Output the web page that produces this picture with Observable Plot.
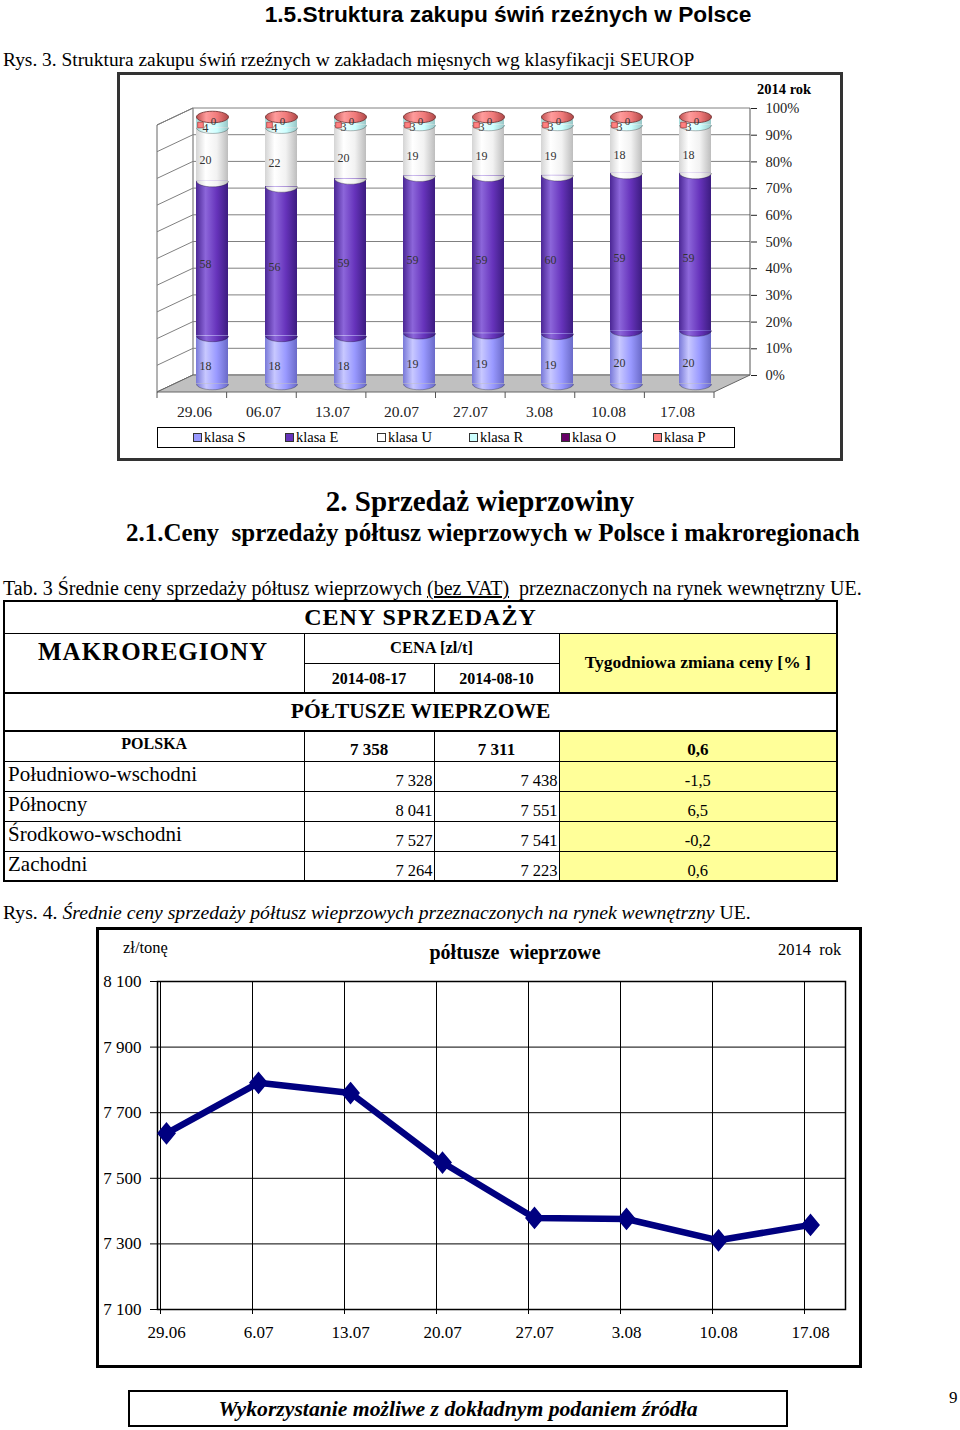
<!DOCTYPE html>
<html><head><meta charset="utf-8">
<script src="https://cdn.jsdelivr.net/npm/d3@7"></script>
<script src="https://cdn.jsdelivr.net/npm/@observablehq/plot@0.6"></script>
<style>
body{margin:0;overflow:hidden;background:#fff;}
#page{position:relative;width:960px;height:1430px;font-family:'Liberation Serif','Times New Roman',serif;color:#000;}
.abs{position:absolute;white-space:nowrap;line-height:1;}
.box{position:absolute;box-sizing:border-box;}
#tab{position:absolute;left:3px;top:600px;width:833px;border-collapse:collapse;table-layout:fixed;border:2px solid #000;font-family:'Liberation Serif','Times New Roman',serif;}
#tab td{border:1px solid #000;padding:0 3px;line-height:1;overflow:hidden;white-space:nowrap;}
#tab .c{text-align:center;}
#tab .y{background:#FFFF99;}
#tab .big{font-weight:bold;font-size:24px;letter-spacing:1px;vertical-align:middle;}
#tab .mak{font-weight:bold;font-size:25px;letter-spacing:1px;vertical-align:top;padding-top:5px;padding-left:33px;}
#tab .b15{font-weight:bold;font-size:16.5px;}
#tab .thick td{border-top:2px solid #000;border-bottom:2px solid #000;}
.leg{position:absolute;top:0;font-size:14.5px;line-height:19px;white-space:nowrap;}
.leg i{display:inline-block;width:7px;height:7px;border:1px solid #333;margin-right:2px;vertical-align:0px;}
</style></head>
<body><div id="page">
<div class="abs" style="left:208px;width:600px;text-align:center;top:1px;font:bold 22.7px 'Liberation Sans',Arial,sans-serif;">1.5.Struktura zakupu świń rzeźnych w Polsce</div>
<div class="abs" style="left:3px;top:50px;font-size:19.4px;">Rys. 3. Struktura zakupu świń rzeźnych w zakładach mięsnych wg klasyfikacji SEUROP</div>
<div id="c1"></div>
<div class="box" style="left:117px;top:72px;width:726px;height:389px;border:3px solid #333;"></div>
<div class="abs" style="left:757px;top:82px;font-weight:bold;font-size:14.5px;">2014 rok</div>
<div class="box" id="legend" style="left:157px;top:427px;width:578px;height:21px;border:1px solid #000;"></div>
<div class="abs" style="left:230px;width:500px;text-align:center;top:487px;font-weight:bold;font-size:29px;">2. Sprzedaż wieprzowiny</div>
<div class="abs" style="left:126px;top:520px;font-weight:bold;font-size:25px;white-space:pre;">2.1.Ceny  sprzedaży półtusz wieprzowych w Polsce i makroregionach</div>
<div class="abs" style="left:3px;top:578px;font-size:20px;white-space:pre;">Tab. 3 Średnie ceny sprzedaży półtusz wieprzowych <u>(bez VAT)</u>  przeznaczonych na rynek wewnętrzny UE.</div>
<table id="tab">
<colgroup><col style="width:300px"><col style="width:130px"><col style="width:125px"><col style="width:278px"></colgroup>
<tr style="height:32px"><td colspan="4" class="c big">CENY SPRZEDAŻY</td></tr>
<tr style="height:30px"><td rowspan="2" class="mak">MAKROREGIONY</td><td colspan="2" class="c b15">CENA [zl/t]</td><td rowspan="2" class="c y b15" style="font-size:17.5px">Tygodniowa zmiana ceny [% ]</td></tr>
<tr style="height:30px"><td class="c b15" style="font-size:16px;vertical-align:bottom;padding-bottom:5px">2014-08-17</td><td class="c b15" style="font-size:16px;vertical-align:bottom;padding-bottom:5px">2014-08-10</td></tr>
<tr style="height:38px" class="thick"><td colspan="4" class="c" style="font-weight:bold;font-size:21.5px;">PÓŁTUSZE WIEPRZOWE</td></tr>
<tbody id="tbody"></tbody>
</table>
<div class="abs" style="left:3px;top:903px;font-size:19.7px;">Rys. 4. <i>Średnie ceny sprzedaży półtusz wieprzowych przeznaczonych na rynek wewnętrzny</i> UE.</div>
<div id="c2"></div>
<div class="box" style="left:96px;top:927px;width:766px;height:441px;border:3px solid #000;"></div>
<div class="abs" style="left:123px;top:940px;font-size:16.5px;">zł/tonę</div>
<div class="abs" style="left:315px;width:400px;text-align:center;top:942px;font-weight:bold;font-size:20px;white-space:pre;">półtusze  wieprzowe</div>
<div class="abs" style="left:778px;top:942px;font-size:16.5px;white-space:pre;">2014  rok</div>
<div class="box" style="left:128px;top:1390px;width:660px;height:37px;border:2px solid #000;"></div>
<div class="abs" style="left:128px;width:660px;text-align:center;top:1399px;font-weight:bold;font-style:italic;font-size:21.7px;">Wykorzystanie możliwe z dokładnym podaniem źródła</div>
<div class="abs" style="left:949px;top:1389px;font-size:17px;">9</div>
</div>
<script>
// ---------- Data: chart 1 (SEUROP structure, %) ----------
const dates = ["29.06","06.07","13.07","20.07","27.07","3.08","10.08","17.08"];
const classes = ["klasa S","klasa E","klasa U","klasa R","klasa O","klasa P"];
const klasaS = [18,18,18,19,19,19,20,20];
const klasaE = [58,56,59,59,59,60,59,59];
const klasaU = [20,22,20,19,19,19,18,18];
const klasaR = [4,4,3,3,3,3,3,3];
const klasaO = [0,0,0,0,0,0,0,0];
const klasaP = [0,0,0,0,0,0,0,0];
const classColors = ["#9999FF","#6633BB","#FFFFFF","#CCFFFF","#660066","#FF8080"];
const percentTicks = [0,0.1,0.2,0.3,0.4,0.5,0.6,0.7,0.8,0.9,1];

// ---------- Data: table ----------
const regions = ["POLSKA","Południowo-wschodni","Północny","Środkowo-wschodni","Zachodni"];
const price0817 = [7358,7328,8041,7527,7264];
const price0810 = [7311,7438,7551,7541,7223];
const weeklyChange = [0.6,-1.5,6.5,-0.2,0.6];

// ---------- Data: chart 2 (prices zł/t) ----------
const priceDates = ["29.06","6.07","13.07","20.07","27.07","3.08","10.08","17.08"];
const prices = [7637,7791,7760,7548,7379,7376,7311,7358];
const priceTicks = [7100,7300,7500,7700,7900,8100];

// ---------- Chart 1 ----------
const series = [klasaS,klasaE,klasaU,klasaR,klasaO,klasaP];
const rows = [];
dates.forEach((d,i) => classes.forEach((k,j) => rows.push({date:d, klass:k, value:series[j][i]})));

const K = 0.5523, RY = 0.36;
const halfEllipse = {draw(ctx, size){
  const rx = Math.sqrt(size/Math.PI), ry = rx*RY;
  ctx.moveTo(-rx,0);
  ctx.bezierCurveTo(-rx,K*ry,-K*rx,ry,0,ry);
  ctx.bezierCurveTo(K*rx,ry,rx,K*ry,rx,0);
}};
const fullEllipse = {draw(ctx, size){
  const rx = Math.sqrt(size/Math.PI), ry = rx*RY;
  ctx.moveTo(-rx,0);
  ctx.bezierCurveTo(-rx,K*ry,-K*rx,ry,0,ry);
  ctx.bezierCurveTo(K*rx,ry,rx,K*ry,rx,0);
  ctx.bezierCurveTo(rx,-K*ry,K*rx,-ry,0,-ry);
  ctx.bezierCurveTo(-K*rx,-ry,-rx,-K*ry,-rx,0);
  ctx.closePath();
}};
const wideDiamond = {draw(ctx, size){
  const r = Math.sqrt(size/Math.PI);
  ctx.moveTo(0,-r*1.2); ctx.lineTo(r,0); ctx.lineTo(0,r*1.2); ctx.lineTo(-r,0); ctx.closePath();
}};

const DEPTH_X = 36, DEPTH_Y = 17;
function walls(index, scales, values, dims) {
  const y = scales.y;
  const fx0 = dims.marginLeft, fx1 = dims.width - dims.marginRight;
  const bx0 = fx0 + DEPTH_X, bx1 = fx1 + DEPTH_X;
  const y0 = y(0), y1 = y(1);
  const g = d3.create("svg:g");
  g.append("path").attr("d",`M${fx0},${y0+DEPTH_Y}L${bx0},${y0}L${bx0},${y1}L${fx0},${y1+DEPTH_Y}Z`)
    .attr("fill","#fff").attr("stroke","#666");
  for (const t of percentTicks) {
    const yy = y(t);
    g.append("path").attr("d",`M${fx0},${yy+DEPTH_Y}L${bx0},${yy}L${bx1},${yy}`)
      .attr("fill","none").attr("stroke","#808080").attr("stroke-width",1);
  }
  g.append("line").attr("x1",bx1).attr("x2",bx1).attr("y1",y0).attr("y2",y1).attr("stroke","#555");
  g.append("path").attr("d",`M${bx0},${y0}L${bx1},${y0}L${fx1},${y0+DEPTH_Y}L${fx0},${y0+DEPTH_Y}Z`)
    .attr("fill","#C0C0C0").attr("stroke","#666");
  const step = (fx1-fx0)/dates.length;
  for (let i=0;i<=dates.length;i++){
    const xx = fx0 + i*step;
    g.append("line").attr("x1",xx).attr("x2",xx).attr("y1",y0+DEPTH_Y).attr("y2",y0+DEPTH_Y+6).attr("stroke","#555");
  }
  return g.node();
}

const BX = 18, BY = 8.5;
const chart1 = Plot.plot({
  width: 960, height: 390,
  marginLeft: 157, marginRight: 246, marginTop: 36, marginBottom: 87,
  style: {fontFamily: "'Liberation Serif', serif", fontSize: "15px", background: "transparent", color: "#222", overflow: "visible"},
  x: {type: "band", domain: dates, paddingInner: 0.54, paddingOuter: 0.27, align: 0.5, label: null},
  y: {domain: [0,1], label: null},
  color: {domain: classes, range: classes.map((c,i) => `url(#cyl${i})`)},
  marks: [
    walls,
    Plot.barY(rows, {x:"date", y:"value", z:"klass", fill:"klass", offset:"normalize", dx:BX, dy:BY}),
    Plot.dot(rows.filter(d => d.value > 0), Plot.stackY1({x:"date", y:"value", z:"klass", offset:"normalize",
      fill:"klass", symbol: halfEllipse, r:16, stroke:"#000", strokeOpacity:0.35, strokeWidth:0.8, dx:BX, dy:BY})),
    Plot.dot(dates, {x: d => d, y: () => 1, fill: () => "klasa P", symbol: fullEllipse, r:16,
      stroke:"#6a2a2a", strokeWidth:0.8, dx:BX, dy:BY}),
    Plot.text(rows.filter(d => ["klasa S","klasa E","klasa U","klasa R"].includes(d.klass)),
      Plot.stackY({x:"date", y:"value", z:"klass", offset:"normalize", text: d => String(d.value),
        dx: BX-7, dy: BY+6, fontSize: 12, fill: "#333"})),
    Plot.dot(dates, {x: d => d, y: () => 1, symbol: "square", r: 3.2, fill: "#FF8080", stroke: "#A03030", strokeWidth: 0.7, dx: BX-12, dy: BY+8}),
    Plot.text(dates, {x: d => d, y: () => 1, text: () => "0", dx: BX+1, dy: BY+4, fontSize: 11, fill: "#333"}),
    Plot.axisY({anchor:"right", ticks: percentTicks, tickFormat: d3.format(".0%"), tickSize: 6, tickPadding: 9,
      dx: DEPTH_X, fontSize: 14.5, label: null}),
    Plot.axisX({tickSize: 0, tickPadding: 30, fontSize: 15.5, label: null})
  ]
});
const defs = d3.select(chart1).insert("defs", ":first-child");
const cylStops = [
  [["0","#7878D8"],["0.3","#C8C8FF"],["0.65","#9999FF"],["1","#6A6AC8"]],
  [["0","#4A2694"],["0.3","#8C66DA"],["0.65","#6633BB"],["1","#3C1C80"]],
  [["0","#D4D4D4"],["0.3","#FFFFFF"],["0.65","#F2F2F2"],["1","#BDBDBD"]],
  [["0","#A4DADA"],["0.3","#EEFFFF"],["0.65","#CCFFFF"],["1","#98C6C6"]],
  [["0","#480048"],["0.3","#8A2A8A"],["0.65","#660066"],["1","#400040"]],
  [["0","#C05050"],["0.3","#FF9C9C"],["0.65","#F07A7A"],["1","#B04848"]]
];
cylStops.forEach((stops,i) => {
  const lg = defs.append("linearGradient").attr("id","cyl"+i).attr("x1","0").attr("x2","1").attr("y1","0").attr("y2","0");
  stops.forEach(([o,c]) => lg.append("stop").attr("offset",o).attr("stop-color",c));
});
chart1.style.position = "absolute"; chart1.style.left = "0px"; chart1.style.top = "72px";
document.getElementById("c1").appendChild(chart1);

// legend
const legend = document.getElementById("legend");
classes.forEach((k,i) => {
  const s = document.createElement("div");
  s.className = "leg";
  s.style.left = (35 + i*92) + "px";
  s.innerHTML = `<i style="background:${classColors[i]}"></i>${k}`;
  legend.appendChild(s);
});

// ---------- Table ----------
const fmtInt = d3.formatLocale({thousands:"\u00a0", grouping:[3], decimal:",", currency:["",""]}).format(",");
const fmtDec = d3.formatLocale({thousands:"\u00a0", grouping:[3], decimal:",", currency:["",""], minus:"-"}).format(".1f");
const tbody = document.getElementById("tbody");
regions.forEach((r,i) => {
  const tr = document.createElement("tr");
  tr.style.height = "30px";
  if (i === 0) {
    tr.innerHTML = `<td class="c" style="font-weight:bold;font-size:16px;vertical-align:top;padding-top:4px">${r}</td>`+
      `<td class="c" style="font-weight:bold;font-size:17px;vertical-align:bottom;padding-bottom:3px">${fmtInt(price0817[i])}</td>`+
      `<td class="c" style="font-weight:bold;font-size:17px;vertical-align:bottom;padding-bottom:3px">${fmtInt(price0810[i])}</td>`+
      `<td class="c y" style="font-weight:bold;font-size:17px;vertical-align:bottom;padding-bottom:3px">${fmtDec(weeklyChange[i])}</td>`;
  } else {
    tr.innerHTML = `<td style="font-size:21px;vertical-align:top;padding-top:2px">${r}</td>`+
      `<td style="text-align:right;font-size:16.5px;vertical-align:bottom;padding:0 1px 1px 0">${fmtInt(price0817[i])}</td>`+
      `<td style="text-align:right;font-size:16.5px;vertical-align:bottom;padding:0 1px 1px 0">${fmtInt(price0810[i])}</td>`+
      `<td class="c y" style="font-size:16.5px;vertical-align:bottom;padding-bottom:1px">${fmtDec(weeklyChange[i])}</td>`;
  }
  tbody.appendChild(tr);
});

// ---------- Chart 2 ----------
const priceData = priceDates.map((d,i) => ({date:d, price:prices[i]}));
const chart2 = Plot.plot({
  width: 960, height: 400,
  marginLeft: 157, marginRight: 115, marginTop: 21, marginBottom: 51,
  style: {fontFamily: "'Liberation Serif', serif", fontSize: "17px", background: "transparent", color: "#000", overflow: "visible"},
  x: {type: "point", domain: priceDates, range: [163, 813], padding: 0, label: null},
  y: {domain: [7100, 8100], label: null},
  marks: [
    Plot.ruleY(priceTicks, {stroke: "#000", strokeWidth: 1}),
    Plot.ruleX(priceDates, {stroke: "#000", strokeWidth: 1, dx: -6}),
    Plot.frame({stroke: "#000", strokeWidth: 1.5}),
    Plot.axisY({ticks: priceTicks, tickFormat: fmtInt, tickSize: 7, tickPadding: 9, label: null}),
    Plot.axisX({text: null, tickSize: 5, dx: -6, label: null}),
    Plot.axisX({tickSize: 0, tickPadding: 16, label: null}),
    Plot.line(priceData, {x: "date", y: "price", stroke: "#000080", strokeWidth: 6.5}),
    Plot.dot(priceData, {x: "date", y: "price", symbol: wideDiamond, r: 8.5, fill: "#000080", stroke: "#000080"})
  ]
});
chart2.style.position = "absolute"; chart2.style.left = "0px"; chart2.style.top = "960px";
document.getElementById("c2").appendChild(chart2);
</script>
</body></html>
